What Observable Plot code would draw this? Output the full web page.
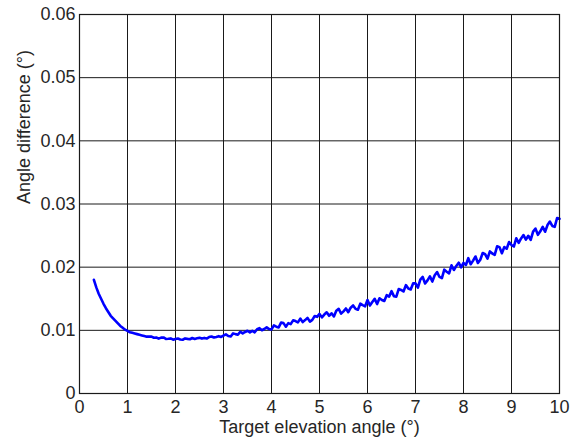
<!DOCTYPE html>
<html><head><meta charset="utf-8">
<script src="https://cdn.jsdelivr.net/npm/d3@7"></script>
<script src="https://cdn.jsdelivr.net/npm/@observablehq/plot@0.6"></script>
<style>html,body{margin:0;padding:0;background:#fff} #chart svg{display:block}</style>
</head><body><div id="chart"></div>
<script>
const angles = [
0.30,0.35,0.40,0.45,0.50,0.55,0.60,0.65,0.70,0.75,0.80,0.85,0.90,0.95,
1.00,1.05,1.10,1.15,1.20,1.25,1.30,1.35,1.40,1.45,1.50,1.55,1.60,1.65,1.70,1.75,1.80,1.85,1.90,1.95,
2.00,2.05,2.10,2.15,2.20,2.25,2.30,2.35,2.40,2.45,2.50,2.55,2.60,2.65,2.70,2.75,2.80,2.85,2.90,2.95,
3.00,3.05,3.10,3.15,3.20,3.25,3.30,3.35,3.40,3.45,3.50,3.55,3.60,3.65,3.70,3.75,3.80,3.85,3.90,3.95,
4.00,4.05,4.10,4.15,4.20,4.25,4.30,4.35,4.40,4.45,4.50,4.55,4.60,4.65,4.70,4.75,4.80,4.85,4.90,4.95,
5.00,5.05,5.10,5.15,5.20,5.25,5.30,5.35,5.40,5.45,5.50,5.55,5.60,5.65,5.70,5.75,5.80,5.85,5.90,5.95,
6.00,6.05,6.10,6.15,6.20,6.25,6.30,6.35,6.40,6.45,6.50,6.55,6.60,6.65,6.70,6.75,6.80,6.85,6.90,6.95,
7.00,7.05,7.10,7.15,7.20,7.25,7.30,7.35,7.40,7.45,7.50,7.55,7.60,7.65,7.70,7.75,7.80,7.85,7.90,7.95,
8.00,8.05,8.10,8.15,8.20,8.25,8.30,8.35,8.40,8.45,8.50,8.55,8.60,8.65,8.70,8.75,8.80,8.85,8.90,8.95,
9.00,9.05,9.10,9.15,9.20,9.25,9.30,9.35,9.40,9.45,9.50,9.55,9.60,9.65,9.70,9.75,9.80,9.85,9.90,9.95,
10.00
];
const angleDiff = [
0.0180,0.0168,0.0158,0.0150,0.0142,0.0135,0.0129,0.0123,0.0119,0.0115,0.0111,0.0107,0.0104,0.0101,
0.0099,0.0097,0.0096,0.0095,0.0094,0.0093,0.0092,0.0091,0.0090,0.0090,
0.00901,0.00882,0.00886,0.00869,0.00885,0.00887,0.00864,0.00867,0.00872,0.00852,
0.00864,0.00871,0.00856,0.00851,0.00872,0.00865,0.00859,0.00879,0.00864,0.00874,
0.00881,0.00869,0.00880,0.00870,0.00893,0.00902,0.00886,0.00896,0.00908,0.00895,
0.00918,0.00936,0.00910,0.00903,0.00952,0.00940,0.00931,0.00977,0.00951,0.00974,
0.00993,0.00968,0.00991,0.00969,0.01017,0.01035,0.01001,0.01021,0.01047,0.01020,
0.01014,0.01078,0.01058,0.01046,0.01122,0.01114,0.01058,0.01114,0.01098,0.01158,
0.01146,0.01126,0.01186,0.01130,0.01162,0.01198,0.01138,0.01166,0.01226,0.01214,
0.01260,0.01205,0.01250,0.01285,0.01230,0.01270,0.01220,0.01310,0.01340,0.01265,
0.01300,0.01346,0.01287,0.01358,0.01394,0.01340,0.01326,0.01422,0.01398,0.01379,
0.01480,0.01392,0.01448,0.01498,0.01416,0.01508,0.01480,0.01464,0.01556,0.01534,
0.01620,0.01541,0.01534,0.01653,0.01640,0.01615,0.01716,0.01661,0.01648,0.01743,
0.01744,0.01675,0.01802,0.01845,0.01741,0.01791,0.01855,0.01772,0.01871,0.01921,
0.01845,0.01826,0.01961,0.01928,0.01902,0.02030,0.01955,0.02020,0.02071,0.01996,
0.02068,0.02035,0.02142,0.02046,0.02104,0.02169,0.02066,0.02117,0.02224,0.02205,
0.02137,0.02250,0.02216,0.02196,0.02330,0.02317,0.02220,0.02319,0.02292,0.02398,
0.02350,0.02327,0.02458,0.02386,0.02454,0.02508,0.02436,0.02497,0.02432,0.02563,
0.02610,0.02512,0.02568,0.02638,0.02561,0.02666,0.02722,0.02652,0.02638,0.02778,
0.02765
];
const xTicks = [0,1,2,3,4,5,6,7,8,9,10];
const yTicks = [0,0.01,0.02,0.03,0.04,0.05,0.06];
const yTickLabels = ["0","0.01","0.02","0.03","0.04","0.05","0.06"];
const xLabel = "Target elevation angle (°)";
const yLabel = "Angle difference (°)";

const data = angles.map((a, i) => ({a, d: angleDiff[i]}));
const font = "'Liberation Sans', Arial, Helvetica, sans-serif";
const ink = "#262626";
const gridColor = "#1a1a1a";

const chart = Plot.plot({
  width: 576, height: 443,
  marginLeft: 79, marginRight: 17, marginTop: 14, marginBottom: 50,
  style: {fontFamily: font, background: "#fff", color: ink, overflow: "visible"},
  x: {domain: [0, 10]},
  y: {domain: [0, 0.06]},
  marks: [
    Plot.gridX(xTicks, {stroke: gridColor, strokeOpacity: 1, strokeWidth: 1}),
    Plot.gridY(yTicks, {stroke: gridColor, strokeOpacity: 1, strokeWidth: 1}),
    Plot.line(data, {x: "a", y: "d", stroke: "#0000ff", strokeWidth: 2.6, strokeLinejoin: "round"}),
    Plot.frame({stroke: gridColor, strokeWidth: 1.2}),
    Plot.axisX(xTicks, {tickSize: 0, tickPadding: 7, fontSize: 18, label: null, fill: ink}),
    Plot.axisY(yTicks, {tickSize: 0, tickPadding: 4, fontSize: 18, label: null, fill: ink,
      tickFormat: d => yTickLabels[yTicks.indexOf(d)]}),
    Plot.text([xLabel], {text: d => d, frameAnchor: "bottom", dy: 39, fontSize: 18, fill: ink}),
    Plot.text([yLabel], {text: d => d, frameAnchor: "left", dx: -55, rotate: -90, fontSize: 18, fill: ink})
  ]
});
document.getElementById("chart").appendChild(chart);
</script>
</body></html>
